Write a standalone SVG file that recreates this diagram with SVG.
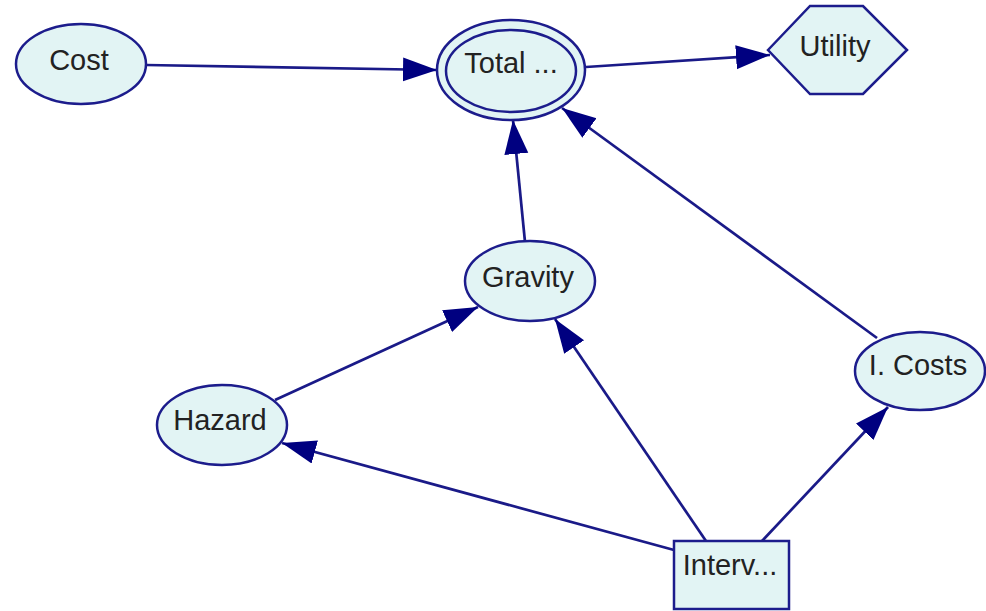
<svg xmlns="http://www.w3.org/2000/svg" width="986" height="611" viewBox="0 0 986 611">
<defs>
<style>
.node{fill:#e2f4f4;stroke:#1c1c8c;stroke-width:2.5}
.lbl{font-family:"Liberation Sans",Arial,sans-serif;font-size:29px;fill:#222;text-anchor:middle}
.edge{stroke:#1a1a88;stroke-width:2.7;fill:none;marker-end:url(#arr)}
</style>
<marker id="arr" markerUnits="userSpaceOnUse" markerWidth="36" markerHeight="26" refX="34" refY="12" orient="auto">
<path d="M0,0 L34,12 L0,24 z" fill="#000080"/>
</marker>
</defs>
<rect width="986" height="611" fill="#fff"/>
<g id="edges">
<line class="edge" x1="146" y1="65" x2="437" y2="70"/>
<line class="edge" x1="586" y1="67" x2="770" y2="55"/>
<line class="edge" x1="525" y1="242" x2="513" y2="120"/>
<line class="edge" x1="877" y1="338" x2="562" y2="108"/>
<line class="edge" x1="275" y1="400" x2="478" y2="307"/>
<line class="edge" x1="674" y1="550" x2="282" y2="443"/>
<line class="edge" x1="706" y1="541" x2="555" y2="319"/>
<line class="edge" x1="762" y1="541" x2="888" y2="407"/>
</g>
<g id="cost">
<ellipse class="node" cx="81" cy="64" rx="65" ry="40"/>
<text class="lbl" x="79" y="70">Cost</text>
</g>
<g id="total">
<ellipse class="node" cx="511" cy="70" rx="74" ry="50"/>
<ellipse class="node" cx="511" cy="71" rx="65" ry="41"/>
<text class="lbl" x="511" y="73">Total ...</text>
</g>
<g id="utility">
<polygon class="node" points="768,50 810,6 863,6 907,50 863,94 810,94"/>
<text class="lbl" x="835" y="56">Utility</text>
</g>
<g id="gravity">
<ellipse class="node" cx="530" cy="281" rx="65" ry="40"/>
<text class="lbl" x="528" y="287">Gravity</text>
</g>
<g id="hazard">
<ellipse class="node" cx="222" cy="425" rx="65" ry="40"/>
<text class="lbl" x="220" y="430">Hazard</text>
</g>
<g id="icosts">
<ellipse class="node" cx="920" cy="371" rx="65" ry="39"/>
<text class="lbl" x="918" y="375">I. Costs</text>
</g>
<g id="interv">
<rect class="node" x="674" y="541" width="115" height="68"/>
<text class="lbl" x="730" y="575">Interv...</text>
</g>
</svg>
